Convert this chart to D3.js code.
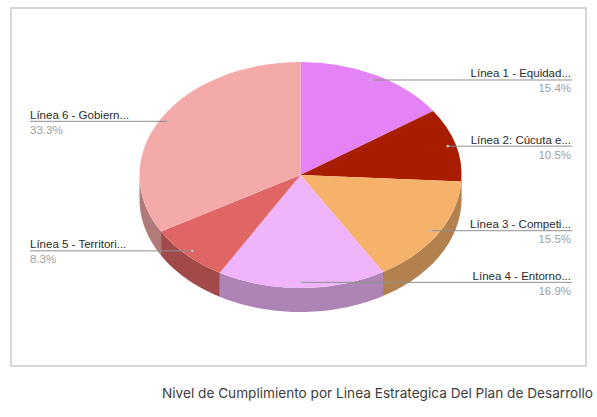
<!DOCTYPE html>
<html>
<head>
<meta charset="utf-8">
<script src="https://cdn.jsdelivr.net/npm/d3@7"></script>
<style>
  body { margin: 0; background: #fff; }
  svg { display: block; }
</style>
</head>
<body>
<svg></svg>
<script>
const width = 597;
const height = 417;

// chart data
const names = ['Línea 1 - Equidad...', 'Línea 2: Cúcuta e...', 'Línea 3 - Competi...',
               'Línea 4 - Entorno...', 'Línea 5 - Territori...', 'Línea 6 - Gobiern...'];
const values = [15.4, 10.5, 15.5, 16.9, 8.3, 33.3];
const pct_labels = ['15.4%', '10.5%', '15.5%', '16.9%', '8.3%', '33.3%'];
const colors = ['#e583f6', '#a81d00', '#f6b26b', '#f0b4fb', '#e06666', '#f5aaaa'];
const title = 'Nivel de Cumplimiento por Linea Estrategica Del Plan de Desarrollo';

// pie geometry (3d ellipse)
const cx = 300.5, cy = 175, rx = 161, ry = 113, depth = 24;

let svg = d3.select('svg').attr('width', width).attr('height', height);

// frame
svg.append('rect')
    .attr('x', 11).attr('y', 8).attr('width', 575).attr('height', 358)
    .attr('fill', 'none').attr('stroke', '#c9c9c9').attr('stroke-width', 1.5);

let slices = d3.pie().sort(null).value(d => d)(values);

// point on the ellipse, angle clockwise from 12 o'clock
let pt = (t, r = 1, dy = 0) => [cx + r * rx * Math.sin(t), cy - r * ry * Math.cos(t) + dy];

// side walls: only the front half (pi/2 .. 3pi/2) is visible
let sideG = svg.append('g');
slices.forEach((s, i) => {
    let a = Math.max(s.startAngle, Math.PI / 2);
    let b = Math.min(s.endAngle, 3 * Math.PI / 2);
    if (b <= a) return;
    let top = d3.range(0, 41).map(k => pt(a + (b - a) * k / 40));
    let bottom = top.slice().reverse().map(p => [p[0], p[1] + depth]);
    sideG.append('path')
        .attr('d', d3.line()(top.concat(bottom)) + 'Z')
        .attr('fill', d3.color(colors[i]).darker(0.9));
});

// top faces
let topG = svg.append('g');
slices.forEach((s, i) => {
    let p0 = pt(s.startAngle), p1 = pt(s.endAngle);
    let large = (s.endAngle - s.startAngle) > Math.PI ? 1 : 0;
    topG.append('path')
        .attr('d', `M${cx},${cy}L${p0[0]},${p0[1]}A${rx},${ry} 0 ${large} 1 ${p1[0]},${p1[1]}Z`)
        .attr('fill', colors[i]);
});

// labels with horizontal leader lines
let labG = svg.append('g')
    .attr('font-family', '"Liberation Sans", Arial, sans-serif')
    .attr('font-size', '11.5px');
slices.forEach((s, i) => {
    let mid = (s.startAngle + s.endAngle) / 2;
    let anchor = pt(mid, 0.95);
    let right = Math.sin(mid) >= 0;
    let ly = anchor[1];
    let x_end = right ? 572 : 30;
    labG.append('line')
        .attr('x1', anchor[0]).attr('y1', ly).attr('x2', x_end).attr('y2', ly)
        .attr('stroke', '#8f8f8f').attr('stroke-width', 1);
    labG.append('circle')
        .attr('cx', anchor[0]).attr('cy', ly).attr('r', 1.3)
        .attr('fill', '#bbb');
    let tx = right ? 571 : 30;
    let anc = right ? 'end' : 'start';
    labG.append('text')
        .attr('x', tx).attr('y', ly - 2.5)
        .attr('text-anchor', anc).attr('fill', '#2a2a2a')
        .text(names[i]);
    labG.append('text')
        .attr('x', tx).attr('y', ly + 12.5)
        .attr('text-anchor', anc).attr('fill', '#a0a0a0')
        .text(pct_labels[i]);
});

// caption below the frame, fitted to the reference width
let cap = svg.append('text')
    .attr('x', 593).attr('y', 398)
    .attr('text-anchor', 'end')
    .attr('font-family', 'Inter, "Noto Sans", sans-serif')
    .attr('font-size', '13px')
    .attr('fill', '#3c3c3c')
    .text(title);
let w = cap.node().getComputedTextLength();
cap.attr('font-size', (13 * 431 / w).toFixed(2) + 'px');
</script>
</body>
</html>
